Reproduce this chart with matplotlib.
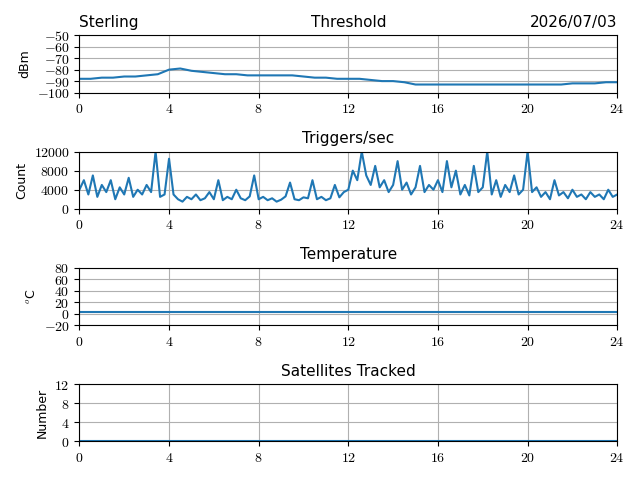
import matplotlib
matplotlib.use('Agg')
import matplotlib.pyplot as plt
import numpy as np

plt.rcParams['mathtext.fontset'] = 'cm'

station = 'Sterling'
date_str = '2026/07/03'

# threshold, every 0.5 h
thr_hours = np.arange(0, 24.01, 0.5)
thr_dbm = [-88, -88, -87, -87, -86, -86, -85, -84, -80, -79, -81, -82, -83, -84, -84,
           -85, -85, -85, -85, -85, -86, -87, -87, -88, -88, -88, -89, -90, -90, -91,
           -93, -93, -93, -93, -93, -93, -93, -93, -93, -93, -93, -93, -93, -93, -92,
           -92, -92, -91, -91]

# triggers/sec, every 0.2 h
trig_hours = np.arange(0, 24.01, 0.2)
trig_count = [4000, 6000, 3000, 7000, 2500, 5000, 3500, 6000, 2000, 4500, 3000, 6500, 2500, 4000, 3000, 5000, 3500, 12000, 2500, 3000,
              10500, 3000, 2000, 1500, 2500, 2000, 3000, 1800, 2200, 3500, 2000, 6000, 1800, 2500, 2000, 4000, 2200, 1800, 2600, 7000,
              2000, 2500, 1800, 2200, 1500, 1900, 2600, 5500, 2000, 1800, 2400, 2200, 6000, 2000, 2500, 1800, 2200, 5000, 2400, 3500,
              4000, 8000, 6000, 12000, 7000, 5000, 9000, 4500, 6000, 3500, 5000, 10000, 4000, 5500, 3000, 4500, 9000, 3500, 5000, 4000,
              6000, 3500, 10000, 4500, 8000, 3000, 5000, 2800, 9000, 3500, 4500, 12000, 3000, 6000, 2500, 5000, 3500, 7000, 3000, 4000,
              12000, 3500, 4500, 2500, 3500, 2000, 6000, 2800, 3500, 2200, 4000, 2500, 3000, 2000, 3500, 2500, 3000, 2000, 4000, 2500, 3000]

temp_hours = [0, 24]
temp_c = [3, 3]
sat_hours = [0, 24]
sat_num = [0, 0]

xticks = [0, 4, 8, 12, 16, 20, 24]
panels = [
    (thr_hours, thr_dbm, 'Threshold', 'dBm', (-100, -50), [-100, -90, -80, -70, -60, -50]),
    (trig_hours, trig_count, 'Triggers/sec', 'Count', (0, 12000), [0, 4000, 8000, 12000]),
    (temp_hours, temp_c, 'Temperature', r'$^o$C', (-20, 80), [-20, 0, 20, 40, 60, 80]),
    (sat_hours, sat_num, 'Satellites Tracked', 'Number', (0, 12), [0, 4, 8, 12]),
]

fig, axes = plt.subplots(4, 1, figsize=(6.4, 4.8))
for ax, (x, y, title, ylab, ylim, yt) in zip(axes, panels):
    ax.plot(x, y, color='#1f77b4', lw=1.5)
    ax.set_xlim(0, 24)
    ax.set_ylim(*ylim)
    ax.set_xticks(xticks)
    ax.set_xticklabels(['$%d$' % t for t in xticks], fontsize=10)
    ax.set_yticks(yt)
    ax.set_yticklabels(['$%d$' % t for t in yt], fontsize=10)
    ax.grid(True)
    ax.set_title(title, fontsize=11)
    ax.set_ylabel(ylab, fontsize=9)
axes[0].set_title(station, loc='left', fontsize=11)
axes[0].set_title(date_str, loc='right', fontsize=11)
fig.tight_layout()
fig.savefig('out.png', dpi=100)
